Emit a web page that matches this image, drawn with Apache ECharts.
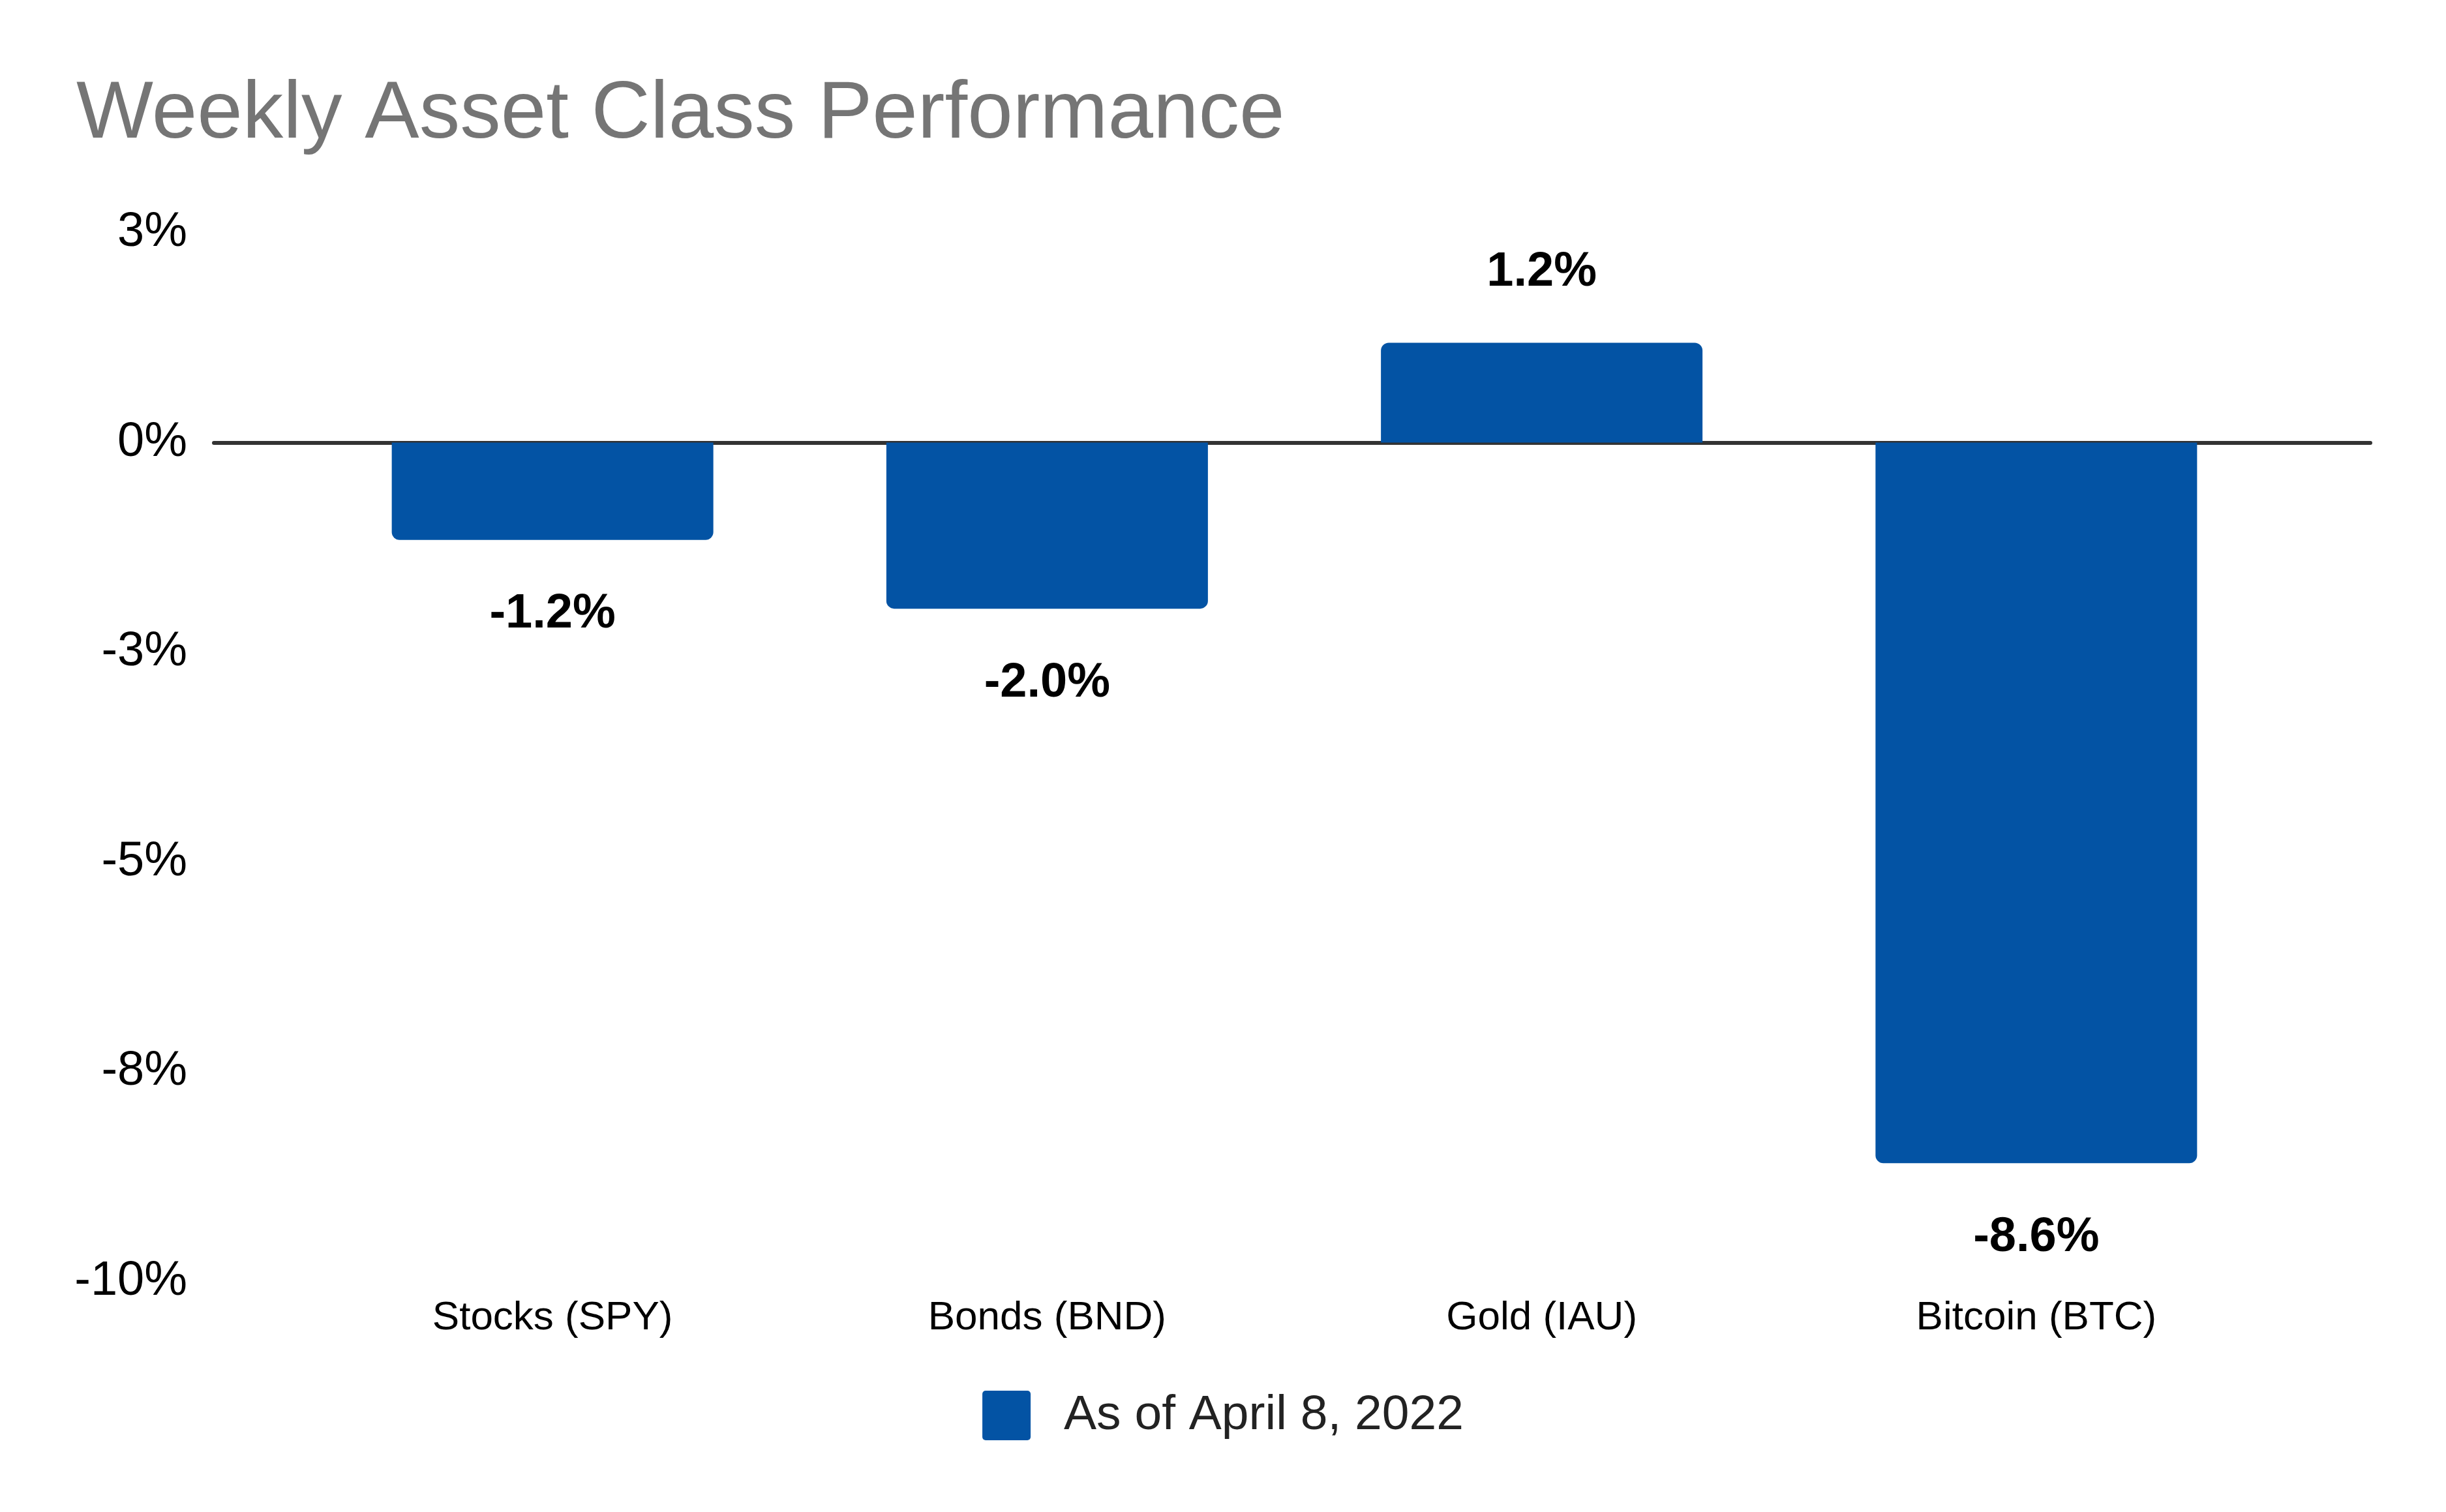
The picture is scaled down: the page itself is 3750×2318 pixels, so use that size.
<!DOCTYPE html>
<html>
<head>
<meta charset="utf-8">
<script src="https://cdn.jsdelivr.net/npm/echarts@6/dist/echarts.min.js"></script>
<style>
  html, body { margin: 0; padding: 0; background: #ffffff; }
  #chart { width: 3750px; height: 2318px; }
</style>
</head>
<body>
<div id="chart"></div>
<script>
// ---- Data ----
const titleText = 'Weekly Asset Class Performance';
const categories = ['Stocks (SPY)', 'Bonds (BND)', 'Gold (IAU)', 'Bitcoin (BTC)'];
const weeklyReturns = [-1.16, -1.98, 1.19, -8.59];
const seriesName = 'As of April 8, 2022';
const yMin = -10;
const yMax = 2.5;
const yStep = 2.5;

// ---- Styling ----
const FONT = "'Liberation Sans', Arial, Helvetica, sans-serif";
const BAR_COLOR = '#0353A4';
const R = 12;

function roundHalfAway(v) {
  return Math.sign(v) * Math.round(Math.abs(v));
}

const barData = weeklyReturns.map(v => ({
  value: v,
  itemStyle: { borderRadius: v < 0 ? [0, 0, R, R] : [R, R, 0, 0] },
  label: { distance: v < 0 ? 77 : 71 }
}));

const chart = echarts.init(document.getElementById('chart'), null, { renderer: 'canvas' });

chart.setOption({
  backgroundColor: '#ffffff',
  animation: false,
  title: {
    text: titleText,
    left: 117,
    top: 114,
    padding: 0,
    textStyle: {
      fontFamily: FONT,
      fontSize: 125,
      fontWeight: 'normal',
      color: '#757575'
    }
  },
  legend: {
    data: [seriesName],
    left: 'center',
    top: 2127,
    itemWidth: 74,
    itemHeight: 76,
    icon: 'path://M5,0H69A5,5,0,0,1,74,5V71A5,5,0,0,1,69,76H5A5,5,0,0,1,0,71V5A5,5,0,0,1,5,0Z',
    textStyle: {
      fontFamily: FONT,
      fontSize: 75,
      color: '#222222',
      padding: [0, 0, 0, 46]
    }
  },
  grid: [
    // wide grid: baseline and y-axis labels
    { left: 328, right: 116, top: 357, bottom: 353.5, containLabel: false },
    // bar grid: band-aligned categories
    { left: 468, right: 249, top: 357, bottom: 353.5, containLabel: false }
  ],
  xAxis: [
    {
      type: 'value',
      gridIndex: 0,
      min: 0,
      max: 1,
      axisLine: { show: true, onZero: true, lineStyle: { color: '#333333', width: 6 } },
      axisTick: { show: false },
      axisLabel: { show: false },
      splitLine: { show: false }
    },
    {
      type: 'category',
      gridIndex: 1,
      data: categories,
      axisLine: { show: false },
      axisTick: { show: false },
      axisLabel: {
        margin: 25,
        fontFamily: FONT,
        fontSize: 62,
        color: '#000000',
        interval: 0
      },
      splitLine: { show: false }
    }
  ],
  yAxis: [
    {
      type: 'value',
      gridIndex: 0,
      min: yMin,
      max: yMax,
      interval: yStep,
      axisLine: { show: false },
      axisTick: { show: false },
      splitLine: { show: false },
      axisLabel: {
        margin: 41,
        fontFamily: FONT,
        fontSize: 74,
        color: '#000000',
        formatter: v => roundHalfAway(v) + '%'
      }
    },
    {
      type: 'value',
      gridIndex: 1,
      min: yMin,
      max: yMax,
      interval: yStep,
      show: false,
      splitLine: { show: false }
    }
  ],
  series: [
    {
      name: seriesName,
      type: 'bar',
      xAxisIndex: 1,
      yAxisIndex: 1,
      data: barData,
      barWidth: 493,
      z: 5,
      itemStyle: { color: BAR_COLOR },
      label: {
        show: true,
        position: 'outside',
        distance: 76,
        fontFamily: FONT,
        fontSize: 74,
        fontWeight: 'bold',
        color: '#000000',
        formatter: p => p.value.toFixed(1) + '%'
      }
    }
  ]
});
</script>
</body>
</html>
